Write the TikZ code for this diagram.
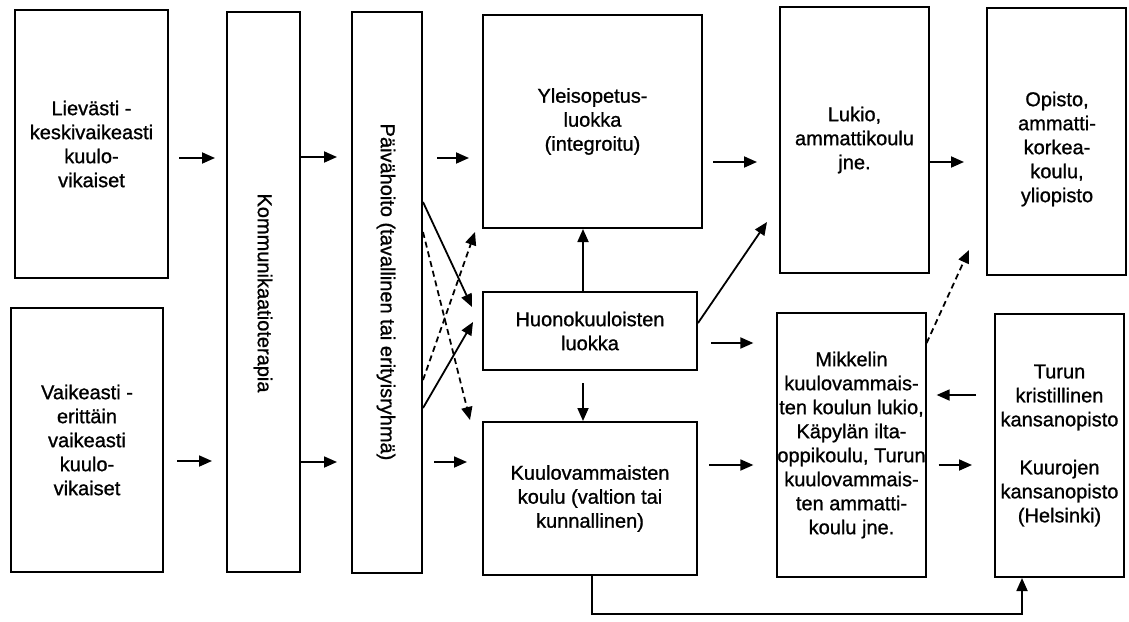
\documentclass[tikz,border=0pt]{standalone}
\usepackage{fontspec}
\setmainfont{Liberation Sans}[BoldFont={Liberation Sans},BoldFeatures={FakeBold=1}]
\usetikzlibrary{arrows.meta,calc}
\begin{document}
\begin{tikzpicture}[x=1pt,y=-1pt,
  txt/.style={font=\fontsize{20}{24}\selectfont\bfseries},
  box/.style={draw,line width=2pt,rectangle,inner sep=0pt,align=center,txt},
  arr/.style={line width=1.8pt,-{Triangle[length=13pt,width=11pt]}},
  darr/.style={arr,dash pattern=on 6pt off 4pt}]
\useasboundingbox (0,0) rectangle (1129,621);
% boxes
\node[box,minimum width=153pt,minimum height=268pt] (lie) at (91.5,144) {Lievästi -\\keskivaikeasti\\kuulo-\\vikaiset};
\node[box,minimum width=152pt,minimum height=264pt] (vai) at (87,440) {Vaikeasti -\\erittäin\\vaikeasti\\kuulo-\\vikaiset};
\node[box,minimum width=73pt,minimum height=560pt] (komm) at (263.5,292) {};
\node[txt,rotate=-90] (kommt) at (263,293) {Kommunikaatioterapia};
\node[box,minimum width=70pt,minimum height=561pt] (paiv) at (387,292.5) {};
\node[txt,rotate=-90] (paivt) at (386,292) {Päivähoito (tavallinen tai erityisryhmä)};
\node[box,minimum width=219pt,minimum height=213pt] (yle) at (592.5,121.5) {Yleisopetus-\\luokka\\(integroitu)};
\node[box,minimum width=214pt,minimum height=78pt] (huo) at (590,331) {Huonokuuloisten\\luokka};
\node[box,minimum width=214pt,minimum height=153pt] (kuu) at (590,498.5) {Kuulovammaisten\\koulu (valtion tai\\kunnallinen)};
\node[box,minimum width=149pt,minimum height=266pt] (luk) at (854.5,140) {Lukio,\\ammattikoulu\\jne.};
\node[box,minimum width=139pt,minimum height=267pt] (opi) at (1056.5,141.5) {};
\node[txt,align=center] (opit) at (1057,149) {Opisto,\\ammatti-\\korkea-\\koulu,\\yliopisto};
\node[box,minimum width=147pt,minimum height=264pt] (mik) at (851.5,445) {Mikkelin\\kuulovammais-\\ten koulun lukio,\\Käpylän ilta-\\oppikoulu, Turun\\kuulovammais-\\ten ammatti-\\koulu jne.};
\node[box,minimum width=129pt,minimum height=263pt] (tur) at (1059.5,445.5) {Turun\\kristillinen\\kansanopisto\\[24pt]Kuurojen\\kansanopisto\\(Helsinki)};
% horizontal arrows
\draw[arr,shorten <=10pt,shorten >=11pt] (lie.east |- 0,158) -- (komm.west |- 0,158);
\draw[arr,shorten >=14pt] (komm.east |- 0,157) -- (paiv.west |- 0,157);
\draw[arr,shorten <=14pt,shorten >=13pt] (paiv.east |- 0,158) -- (yle.west |- 0,158);
\draw[arr,shorten <=13pt,shorten >=14pt] (vai.east |- 0,461) -- (komm.west |- 0,461);
\draw[arr,shorten >=14pt] (komm.east |- 0,462) -- (paiv.west |- 0,462);
\draw[arr,shorten <=11pt,shorten >=15pt] (paiv.east |- 0,462) -- (kuu.west |- 0,462);
\draw[arr,shorten <=10pt,shorten >=22pt] (yle.east |- 0,162) -- (luk.west |- 0,162);
\draw[arr,shorten >=22pt] (luk.east |- 0,162) -- (opi.west |- 0,162);
\draw[arr,shorten <=13pt,shorten >=23pt] (huo.east |- 0,343) -- (mik.west |- 0,343);
\draw[arr,shorten <=11pt,shorten >=23pt] (kuu.east |- 0,465) -- (mik.west |- 0,465);
\draw[arr,shorten <=18pt,shorten >=10pt] (tur.west |- 0,395) -- (mik.east |- 0,395);
\draw[arr,shorten <=12pt,shorten >=22pt] (mik.east |- 0,465) -- (tur.west |- 0,465);
% vertical arrows
\draw[arr] (huo.north -| 583,0) -- (yle.south -| 583,0);
\draw[arr,shorten <=12pt] (huo.south -| 583,0) -- (kuu.north -| 583,0);
% diagonal arrows
\coordinate (lukin) at (767,222);
\draw[arr] (huo.east |- 0,323) -- (lukin);
\coordinate (opiin) at (969,250);
\draw[darr] (mik.east |- 0,343) -- (opiin);
\coordinate (p1) at (472,307);
\coordinate (p2) at (470,420);
\coordinate (p3) at (475,232);
\coordinate (p4) at (473,322);
\draw[arr] (paiv.east |- 0,202) -- (p1);
\draw[darr] (paiv.east |- 0,232) -- (p2);
\draw[darr] (paiv.east |- 0,380) -- (p3);
\draw[arr] (paiv.east |- 0,408) -- (p4);
% bottom connector
\draw[arr] (kuu.south -| 592,0) -- ++(0,38) -| ([xshift=-37.5pt]tur.south);
\end{tikzpicture}
\end{document}
